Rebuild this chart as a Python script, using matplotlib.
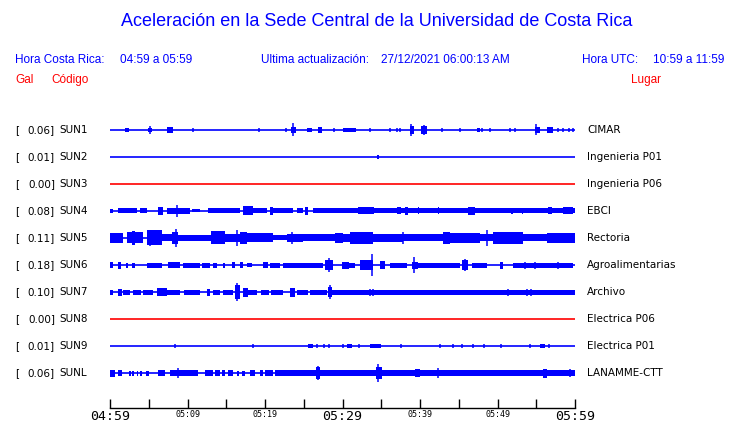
import matplotlib
matplotlib.use("Agg")
import matplotlib.pyplot as plt

W, H = 740, 423
BLUE = "#0000ff"
RED = "#ff0000"

codes = ["SUN1", "SUN2", "SUN3", "SUN4", "SUN5", "SUN6", "SUN7", "SUN8", "SUN9", "SUNL"]
places = ["CIMAR", "Ingenieria P01", "Ingenieria P06", "EBCI", "Rectoria",
          "Agroalimentarias", "Archivo", "Electrica P06", "Electrica P01", "LANAMME-CTT"]
gal = [0.06, 0.01, 0.00, 0.08, 0.11, 0.18, 0.10, 0.00, 0.01, 0.06]
colors = [BLUE, BLUE, RED, BLUE, BLUE, BLUE, BLUE, RED, BLUE, BLUE]

# time ticks (minutes after 04:59)
tick_minutes = list(range(0, 61, 5))
tick_labels = ["04:59", "", "05:09", "", "05:19", "", "05:29", "", "05:39", "", "05:49", "", "05:59"]
big_labels = ["04:59", "05:29", "05:59"]

# bursts: (start minute, end minute, half amplitude in px)
seg_sun1 = [(1.9, 2.5, 2), (4.9, 5.4, 2), (7.4, 8.1, 3), (23.4, 24.0, 3), (25.4, 26.1, 2),
            (26.8, 27.4, 3), (30.1, 31.7, 2), (38.7, 39.2, 4), (40.1, 40.9, 4), (47.4, 47.7, 2),
            (54.8, 55.5, 3), (56.4, 57.2, 3)]
seg_sun2 = [(34.5, 34.7, 2)]
seg_sun3 = []
seg_sun4 = [(0, 0.4, 2), (1.0, 3.5, 2.5), (3.9, 4.8, 2.5), (6.2, 6.8, 4), (7.4, 10.3, 3),
            (10.6, 11.6, 1.5), (12.7, 16.8, 2.5), (17.2, 18.5, 4.5), (18.5, 20.3, 2.5),
            (20.7, 21.0, 4), (21.0, 23.6, 2.5), (24.1, 24.9, 2.5), (25.2, 25.6, 4),
            (26.2, 32.0, 2.5), (32.0, 34.0, 3.5), (34.0, 60, 2.5), (37.0, 37.5, 3.5),
            (38.1, 38.5, 4), (39.7, 39.9, 3.5), (42.3, 42.5, 3.5), (46.2, 47.1, 4),
            (51.8, 52.0, 3), (53.1, 53.3, 3), (56.5, 57.0, 3.5), (58.4, 59.7, 3.5)]
seg_sun5 = [(0, 1.7, 5), (2.2, 4.3, 5.5), (2.8, 3.2, 7), (4.8, 6.7, 7.5), (6.7, 8.0, 3.5),
            (8.0, 8.8, 6), (8.8, 13.0, 3), (13.0, 14.8, 6.5), (14.8, 16.8, 4), (16.8, 17.7, 6),
            (17.7, 21.0, 4.5), (21.0, 22.8, 2.5), (22.8, 24.9, 4), (24.9, 29.0, 3.5),
            (29.0, 30.0, 5), (30.0, 31.0, 4), (31.0, 33.9, 6), (33.9, 37.8, 4), (37.8, 43.0, 3.5),
            (43.0, 43.9, 6), (43.9, 47.7, 5), (47.7, 49.4, 3.5), (49.4, 53.3, 6),
            (53.3, 56.4, 3.5), (56.4, 60, 5)]
seg_sun6 = [(0, 0.4, 3), (1.0, 1.4, 3.5), (2.1, 2.3, 2.5), (2.8, 3.2, 2.5), (4.8, 6.7, 2.5),
            (7.5, 9.0, 3), (9.4, 11.6, 2.5), (11.9, 12.9, 2.5), (13.3, 13.8, 2.5),
            (14.6, 14.8, 2.5), (15.7, 16.1, 3), (16.8, 17.2, 3), (17.7, 18.3, 2),
            (19.7, 20.4, 3), (20.7, 21.9, 2.5), (22.3, 27.5, 2.5), (27.7, 28.8, 5),
            (29.9, 30.9, 3.5), (30.9, 31.6, 2.5), (32.3, 33.9, 5), (34.8, 35.5, 4),
            (36.1, 38.3, 2.5), (39.0, 39.7, 3.5), (39.7, 45.2, 2.5), (45.4, 46.2, 5),
            (46.7, 48.7, 2.5), (50.3, 50.7, 3.5), (52.0, 59.7, 2.5)]
seg_sun7 = [(0, 0.4, 2.5), (1.0, 1.6, 3.5), (1.7, 2.6, 2.5), (3.0, 4.0, 2.5), (4.3, 5.5, 2.5),
            (6.1, 7.4, 4), (7.4, 9.0, 2.5), (9.5, 11.6, 2.5), (12.5, 12.9, 3.5),
            (13.3, 14.2, 2.5), (14.6, 15.9, 2.5), (16.1, 16.8, 7), (17.2, 17.8, 4.5),
            (17.8, 19.0, 2.5), (19.5, 20.5, 2.5), (20.8, 22.3, 2.5), (23.2, 23.9, 4.5),
            (24.1, 25.5, 2.5), (25.8, 28.0, 2.5), (28.1, 28.7, 5), (28.7, 60, 2.5)]
seg_sun8 = []
seg_sun9 = [(25.5, 26.2, 2), (30.6, 31.2, 2), (33.6, 35.0, 1.8), (55.5, 56.1, 2)]
seg_sunl = [(0, 0.65, 3.5), (1.0, 1.5, 3), (2.5, 2.7, 2.5), (2.9, 3.1, 2.5), (3.5, 3.65, 2.5),
            (3.9, 4.1, 2.5), (4.7, 5.0, 2.5), (6.2, 7.1, 3), (7.7, 11.4, 3), (12.3, 13.3, 3),
            (13.6, 14.2, 3), (14.5, 14.8, 3), (15.2, 15.9, 3), (16.4, 16.7, 2.5),
            (17.0, 17.4, 2.5), (18.1, 18.7, 3), (19.4, 19.7, 3), (20.0, 21.0, 3),
            (21.3, 60, 3), (26.6, 27.1, 6), (34.3, 35.1, 6), (39.4, 40.0, 4), (55.9, 56.4, 4.5)]

# spikes: (minute, half amplitude in px)
spk_sun1 = [(5.1, 4), (10.7, 2), (19.2, 2), (22.7, 2), (23.6, 6.5), (28.9, 2), (30.6, 2),
            (33.5, 2), (36.1, 2), (37.0, 2), (37.4, 2), (38.9, 6), (40.5, 5), (42.9, 2),
            (45.2, 2), (48.0, 2), (49.0, 2), (51.6, 2), (52.3, 2), (55.0, 5.5), (57.8, 2),
            (58.5, 2), (59.2, 2), (59.7, 2)]
spk_sun2 = []
spk_sun3 = []
spk_sun4 = [(8.6, 6)]
spk_sun5 = [(5.2, 8), (8.5, 9), (16.4, 8), (23.5, 6), (37.8, 6), (48.6, 8)]
spk_sun6 = [(28.3, 7), (33.8, 11), (39.2, 8), (45.8, 6), (53.5, 3.5), (54.8, 3.5), (57.8, 3.5)]
spk_sun7 = [(16.4, 9), (28.4, 7), (33.6, 3.5), (33.9, 3.5), (51.4, 3.5), (53.8, 3.5), (54.3, 3.5)]
spk_sun8 = []
spk_sun9 = [(8.4, 2), (18.5, 2), (26.7, 2), (27.6, 2), (28.3, 2), (30.0, 2), (32.1, 2),
            (37.6, 2), (42.6, 2), (44.2, 2), (45.4, 2), (46.8, 2), (48.2, 2), (50.4, 2),
            (54.2, 2), (56.6, 2)]
spk_sunl = [(8.8, 5), (26.8, 7), (34.6, 9), (42.3, 5), (59.4, 4)]

segments = [seg_sun1, seg_sun2, seg_sun3, seg_sun4, seg_sun5, seg_sun6, seg_sun7, seg_sun8, seg_sun9, seg_sunl]
spikes = [spk_sun1, spk_sun2, spk_sun3, spk_sun4, spk_sun5, spk_sun6, spk_sun7, spk_sun8, spk_sun9, spk_sunl]

# ---------------- layout (pixels) ----------------
x_left, x_right = 110, 575
y_top_px, y_axis_px = 110, 408
trace0_px, spacing_px = 130, 27

fig = plt.figure(figsize=(W / 100, H / 100), dpi=100)
fig.patch.set_facecolor("white")

ax = fig.add_axes([x_left / W, 1 - y_axis_px / H, (x_right - x_left) / W, (y_axis_px - y_top_px) / H])
ax.set_xlim(0, 60)
ax.set_ylim((y_axis_px - trace0_px) / spacing_px, (y_top_px - trace0_px) / spacing_px)

for i in range(len(codes)):
    c = colors[i]
    ax.hlines(i, 0, 60, color=c, lw=1.2)
    for (t0, t1, hh) in segments[i]:
        a = hh / spacing_px
        ax.bar(t0, 2 * a, width=t1 - t0, bottom=i - a, align="edge", color=c, linewidth=0)
    for (t, hh) in spikes[i]:
        a = hh / spacing_px
        ax.vlines(t, i - a, i + a, color=c, lw=1.1)

for s in ["top", "left", "right"]:
    ax.spines[s].set_visible(False)
ax.spines["bottom"].set_color("black")
ax.spines["bottom"].set_linewidth(1.0)
ax.set_yticks([])
ax.set_xticks(tick_minutes)
ax.set_xticklabels(tick_labels)
ax.tick_params(axis="x", direction="in", length=6.5, width=1.0, pad=1.5, color="black")
for lab in ax.get_xticklabels():
    if lab.get_text() in big_labels:
        lab.set_fontsize(9.5)
    else:
        lab.set_fontsize(6)
    lab.set_fontfamily("DejaVu Sans Mono")

# ---------------- texts ----------------
def ftext(x, y, s, **kw):
    fig.text(x / W, 1 - y / H, s, **kw)

HF = "Liberation Sans"
ftext(377, 22, "Aceleración en la Sede Central de la Universidad de Costa Rica",
      ha="center", va="center", color=BLUE, fontsize=13, family=HF)
ftext(15, 60, "Hora Costa Rica:", ha="left", va="center", color=BLUE, fontsize=8.5, family=HF)
ftext(120, 60, "04:59 a 05:59", ha="left", va="center", color=BLUE, fontsize=8.5, family=HF)
ftext(261, 60, "Ultima actualización:", ha="left", va="center", color=BLUE, fontsize=8.5, family=HF)
ftext(381, 60, "27/12/2021 06:00:13 AM", ha="left", va="center", color=BLUE, fontsize=8.5, family=HF)
ftext(582, 60, "Hora UTC:", ha="left", va="center", color=BLUE, fontsize=8.5, family=HF)
ftext(653, 60, "10:59 a 11:59", ha="left", va="center", color=BLUE, fontsize=8.5, family=HF)
ftext(15, 80, "Gal", ha="left", va="center", color=RED, fontsize=8.5, family=HF)
ftext(51, 80, "Código", ha="left", va="center", color=RED, fontsize=8.5, family=HF)
ftext(631, 80, "Lugar", ha="left", va="center", color=RED, fontsize=8.5, family=HF)

for i in range(len(codes)):
    ypx = trace0_px + spacing_px * i
    ftext(15, ypx, "[", ha="left", va="center", color="black", fontsize=7.5, family="DejaVu Sans")
    ftext(55, ypx, f"{gal[i]:.2f}]", ha="right", va="center", color="black",
          fontsize=7.5, family="DejaVu Sans")
    ftext(59, ypx, codes[i], ha="left", va="center", color="black", fontsize=7.5,
          family="DejaVu Sans")
    ftext(587, ypx, places[i], ha="left", va="center", color="black", fontsize=7.5, family="DejaVu Sans")

fig.savefig("out.png", dpi=100, facecolor="white")
